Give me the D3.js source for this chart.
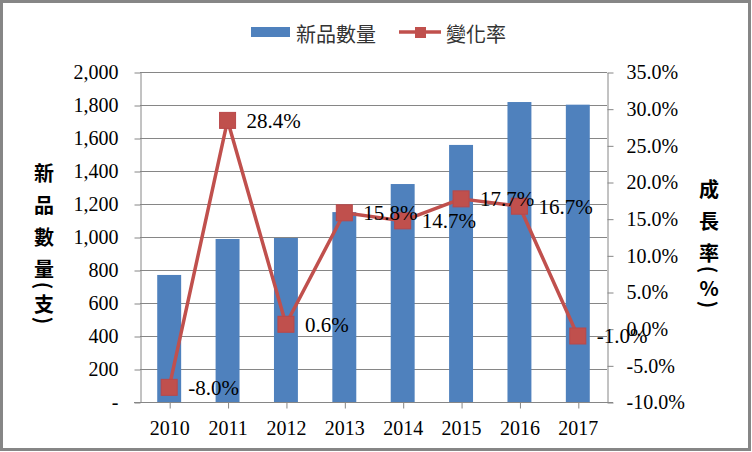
<!DOCTYPE html>
<html>
<head>
<meta charset="utf-8">
<script src="https://cdn.jsdelivr.net/npm/d3@7"></script>
<style>
  body { margin: 0; background: #fff; }
  svg { display: block; }
</style>
</head>
<body>
<script>
// data
var years = ["2010", "2011", "2012", "2013", "2014", "2015", "2016", "2017"];
var counts = [770, 988, 994, 1151, 1321, 1558, 1818, 1802];   // 新品數量 (支)
var rates = [-8.0, 28.4, 0.6, 15.8, 14.7, 17.7, 16.7, -1.0];  // 變化率 (%)
var leftTicks = [0, 200, 400, 600, 800, 1000, 1200, 1400, 1600, 1800, 2000];
var rightTicks = [-10, -5, 0, 5, 10, 15, 20, 25, 30, 35];
var leftTitle = ["新", "品", "數", "量", "(", "支", ")"];
var rightTitle = ["成", "長", "率", "(", "%", ")"];

var W = 752, H = 452;
var plot = {left: 140, right: 607, top: 72, bottom: 402};
var serif = "'Liberation Serif', 'Times New Roman', serif";
var cjk = "'Noto Sans CJK TC', 'Noto Sans', sans-serif";
var gray = "#868686";
var blue = "#4F81BD", red = "#C0504D";

var svg = d3.select("body").append("svg")
  .attr("width", W)
  .attr("height", H);

// outer frame
svg.append("rect")
  .attr("x", 1.5).attr("y", 1.5)
  .attr("width", W - 4).attr("height", H - 4)
  .attr("fill", "#fff")
  .attr("stroke", gray)
  .attr("stroke-width", 3);

// scales
var x = d3.scaleBand().domain(years).range([plot.left, plot.right]).paddingInner(0).paddingOuter(0);
var yL = d3.scaleLinear().domain([0, 2000]).range([plot.bottom, plot.top]);
var yR = d3.scaleLinear().domain([-10, 35]).range([plot.bottom, plot.top]);
var cx = function(d) { return x(d) + x.bandwidth() / 2; };

// gridlines
svg.append("g")
  .selectAll("line")
  .data(leftTicks)
  .enter().append("line")
  .attr("x1", plot.left).attr("x2", plot.right)
  .attr("y1", function(d) { return yL(d) + 0.5; })
  .attr("y2", function(d) { return yL(d) + 0.5; })
  .attr("stroke", gray)
  .attr("stroke-width", 1);

// bars
var barW = x.bandwidth() * 0.41;
svg.append("g")
  .selectAll("rect")
  .data(counts)
  .enter().append("rect")
  .attr("x", function(d, i) { return cx(years[i]) - barW / 2; })
  .attr("y", function(d) { return yL(d); })
  .attr("width", barW)
  .attr("height", function(d) { return yL(0) - yL(d); })
  .attr("fill", blue);

// axes
function styleAxis(g) {
  g.attr("font-family", serif);
  g.selectAll("path, line").attr("stroke", gray).attr("stroke-width", 1);
  g.selectAll("text").attr("font-family", serif).attr("font-size", 20).attr("fill", "#000");
}

var leftAxis = d3.axisLeft(yL)
  .tickValues(leftTicks)
  .tickSize(6).tickSizeOuter(0).tickPadding(16)
  .tickFormat(function(d) { return d === 0 ? "-" : d3.format(",")(d); });
svg.append("g")
  .attr("transform", "translate(" + (plot.left + 0.5) + ",0.5)")
  .call(leftAxis)
  .call(styleAxis);

var rightAxis = d3.axisRight(yR)
  .tickValues(rightTicks)
  .tickSize(6).tickSizeOuter(0).tickPadding(13)
  .tickFormat(function(d) { return d.toFixed(1) + "%"; });
svg.append("g")
  .attr("transform", "translate(" + (plot.right + 0.5) + ",0.5)")
  .call(rightAxis)
  .call(styleAxis);

var xAxis = d3.axisBottom(d3.scalePoint().domain(years).range([cx(years[0]), cx(years[years.length - 1])]))
  .tickSize(6).tickSizeOuter(0).tickPadding(12);
var gx = svg.append("g")
  .attr("transform", "translate(0," + (plot.bottom + 0.5) + ")")
  .call(xAxis)
  .call(styleAxis);
gx.select(".domain").remove();
gx.append("line")
  .attr("x1", plot.left - 6).attr("x2", plot.right + 6)
  .attr("stroke", gray);
gx.selectAll(".tick line").attr("transform", "translate(0.5,0)");

// rate line
var line = d3.line()
  .x(function(d, i) { return cx(years[i]); })
  .y(function(d) { return yR(d); });
svg.append("path")
  .datum(rates)
  .attr("d", line)
  .attr("fill", "none")
  .attr("stroke", red)
  .attr("stroke-width", 3.5)
  .attr("stroke-linejoin", "round");

var mk = 16;
svg.append("g")
  .selectAll("rect")
  .data(rates)
  .enter().append("rect")
  .attr("x", function(d, i) { return cx(years[i]) - mk / 2; })
  .attr("y", function(d) { return yR(d) - mk / 2; })
  .attr("width", mk).attr("height", mk)
  .attr("fill", red)
  .attr("stroke", "#B9484A")
  .attr("stroke-width", 1);

// data labels
svg.append("g")
  .selectAll("text")
  .data(rates)
  .enter().append("text")
  .attr("x", function(d, i) { return cx(years[i]) + 19; })
  .attr("y", function(d) { return yR(d); })
  .attr("dy", "0.35em")
  .attr("font-family", serif)
  .attr("font-size", 21)
  .attr("fill", "#000")
  .text(function(d) { return d.toFixed(1) + "%"; });

// vertical axis titles: CJK glyphs stacked, brackets turned on their side
function stackTitle(chars, xPos, yStart) {
  var y = yStart, prev = null;
  chars.forEach(function(c) {
    var paren = (c === "(" || c === ")");
    var narrow = paren || c === "%";
    if (prev !== null) y += (narrow || prev) ? 17.5 : 32;
    var t = svg.append("text")
      .attr("x", 0)
      .attr("y", 0)
      .attr("text-anchor", "middle")
      .attr("dominant-baseline", "central")
      .attr("font-family", cjk)
      .attr("font-size", 20)
      .attr("font-weight", "bold")
      .attr("fill", "#000")
      .text(c);
    if (paren) {
      t.attr("transform", "translate(" + xPos + "," + y + ") rotate(90)");
    } else {
      t.attr("transform", "translate(" + xPos + "," + y + ")");
    }
    prev = narrow;
  });
}
stackTitle(leftTitle, 44, 172);
stackTitle(rightTitle, 709, 188);

// legend
var legend = svg.append("g");
legend.append("rect")
  .attr("x", 251).attr("y", 27)
  .attr("width", 39).attr("height", 10)
  .attr("fill", blue);
legend.append("text")
  .attr("x", 296).attr("y", 33)
  .attr("dominant-baseline", "central")
  .attr("font-family", cjk)
  .attr("font-size", 20)
  .attr("fill", "#333")
  .text("新品數量");
legend.append("line")
  .attr("x1", 399).attr("x2", 441)
  .attr("y1", 32).attr("y2", 32)
  .attr("stroke", red).attr("stroke-width", 3.5);
legend.append("rect")
  .attr("x", 415).attr("y", 27)
  .attr("width", 11).attr("height", 11)
  .attr("fill", red);
legend.append("text")
  .attr("x", 446).attr("y", 33)
  .attr("dominant-baseline", "central")
  .attr("font-family", cjk)
  .attr("font-size", 20)
  .attr("fill", "#333")
  .text("變化率");
</script>
</body>
</html>
